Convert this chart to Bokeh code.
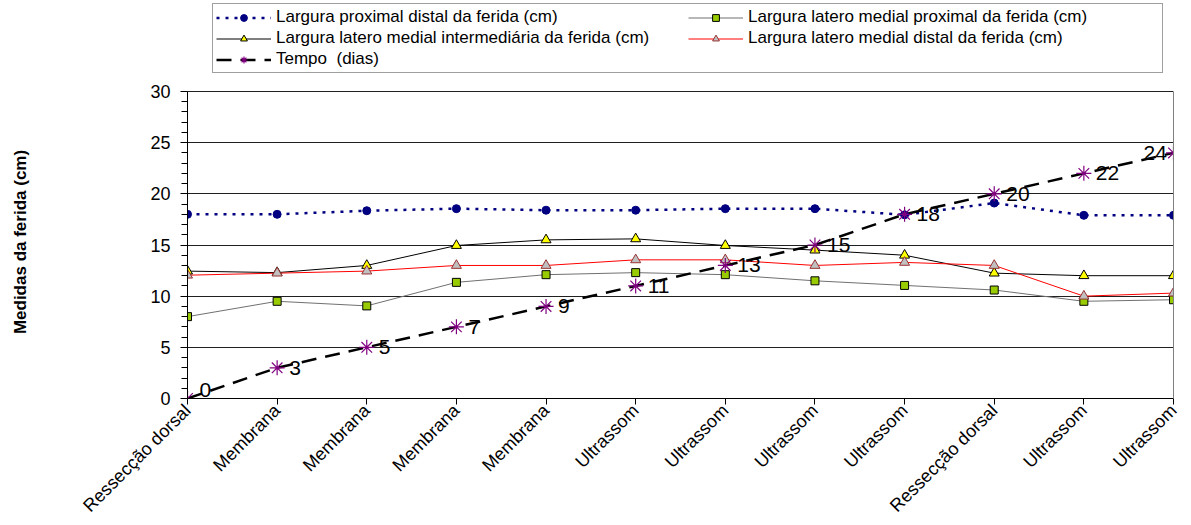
import math
from bokeh.plotting import figure
from bokeh.models import (Legend, LegendItem, FixedTicker, ColumnDataSource,
                          LabelSet, Range1d, LinearAxis)
from bokeh.embed import file_html
from bokeh.resources import INLINE
from bokeh.core.properties import value

categories = ["Ressecção dorsal", "Membrana", "Membrana", "Membrana", "Membrana",
              "Ultrassom", "Ultrassom", "Ultrassom", "Ultrassom",
              "Ressecção dorsal", "Ultrassom", "Ultrassom"]
larg_prox_distal = [18.0, 18.0, 18.35, 18.55, 18.4, 18.4, 18.55, 18.55, 17.95, 19.1, 17.9, 17.9]
larg_lm_proximal = [8.0, 9.5, 9.05, 11.35, 12.1, 12.3, 12.1, 11.5, 11.05, 10.6, 9.5, 9.65]
larg_lm_intermed = [12.45, 12.3, 13.0, 14.95, 15.5, 15.6, 14.95, 14.5, 14.0, 12.25, 12.0, 12.0]
larg_lm_distal = [12.05, 12.25, 12.45, 13.0, 13.0, 13.55, 13.55, 13.0, 13.3, 13.0, 10.0, 10.3]
tempo = [0, 3, 5, 7, 9, 11, 13, 15, 18, 20, 22, 24]
y_ticks = [0, 5, 10, 15, 20, 25, 30]

series_names = ["Largura proximal distal da ferida (cm)",
                "Largura latero medial proximal da ferida (cm)",
                "Largura latero medial intermediária da ferida (cm)",
                "Largura latero medial distal da ferida (cm)",
                "Tempo  (dias)"]
y_label = "Medidas da ferida (cm)"

FONT = "Liberation Sans"
xs = list(range(len(categories)))
y_max = y_ticks[-1]

styles = [
    dict(line=dict(line_color="#000080", line_width=2.5, line_dash="3 6"),
         mark=dict(marker="circle", size=8, fill_color="#000080", line_color="#000080")),
    dict(line=dict(line_color="#707070", line_width=1),
         mark=dict(marker="square", size=8, fill_color="#99CC00", line_color="#000000")),
    dict(line=dict(line_color="#000000", line_width=1),
         mark=dict(marker="triangle", size=10, fill_color="#FFFF00", line_color="#000000")),
    dict(line=dict(line_color="#FF0000", line_width=1),
         mark=dict(marker="triangle", size=10, fill_color="#C0C0C0", line_color="#993333")),
    dict(line=dict(line_color="#000000", line_width=2.5, line_dash="15 9"),
         mark=dict(marker="asterisk", size=15, line_color="#800080", line_width=1.2)),
]
series = [larg_prox_distal, larg_lm_proximal, larg_lm_intermed, larg_lm_distal, tempo]

# frame extends above the value area to host the legend (value area 0..30 = 307px)
px_per_unit = 307 / y_max
p = figure(width=1191, height=525, output_backend="svg", toolbar_location=None,
           x_range=Range1d(0, len(categories) - 1),
           y_range=Range1d(0, y_max + 91 / px_per_unit),
           min_border_left=187, min_border_right=18, min_border_top=0,
           min_border_bottom=127)
p.background_fill_color = "white"
p.border_fill_color = "white"
p.outline_line_color = None

p.xaxis.ticker = FixedTicker(ticks=xs)
p.xaxis.major_label_overrides = {i: c for i, c in enumerate(categories)}
p.xaxis.major_label_orientation = math.pi / 4
p.xaxis.major_label_text_font = FONT
p.xaxis.major_label_text_font_size = "18px"
p.xaxis.major_label_text_color = "black"
p.xaxis.axis_line_color = "black"
p.xaxis.major_tick_line_color = "black"
p.xaxis.major_tick_out = 6
p.xaxis.major_tick_in = 0
p.xaxis.minor_tick_line_color = None
p.xaxis.major_label_standoff = 3

p.yaxis.bounds = (0, y_max)
p.yaxis.ticker = FixedTicker(ticks=y_ticks, minor_ticks=list(range(y_max + 1)))
p.yaxis.major_label_text_font = FONT
p.yaxis.major_label_text_font_size = "18px"
p.yaxis.major_label_text_color = "black"
p.yaxis.axis_line_color = "black"
p.yaxis.major_tick_line_color = "black"
p.yaxis.minor_tick_line_color = "black"
p.yaxis.major_tick_out = 7
p.yaxis.major_tick_in = 0
p.yaxis.minor_tick_out = 6
p.yaxis.minor_tick_in = 0
p.yaxis.major_label_standoff = 10
# trailing no-break spaces shift the centred label down onto the value area
p.yaxis.axis_label = y_label + "\u00a0" * 18
p.yaxis.axis_label_text_font = FONT
p.yaxis.axis_label_text_font_style = "bold"
p.yaxis.axis_label_text_font_size = "17px"
p.yaxis.axis_label_text_color = "black"
p.yaxis.axis_label_standoff = 117

# right border of the value area
rax = LinearAxis(bounds=(0, y_max), ticker=FixedTicker(ticks=[]),
                 axis_line_color="#808080", major_tick_line_color=None,
                 minor_tick_line_color=None, major_label_text_color=None)
p.add_layout(rax, "right")

p.xgrid.visible = False
p.ygrid.grid_line_color = "#202020"
p.ygrid.grid_line_width = 1

line_rs, mark_rs = [], []
for ys, st in zip(series, styles):
    line_rs.append(p.line(xs, ys, **st["line"]))
for ys, st in zip(series, styles):
    mark_rs.append(p.scatter(xs, ys, **st["mark"]))

# data labels for Tempo
label_dx = [12] * (len(tempo) - 1) + [-30]
label_dy = [9] + [0] * (len(tempo) - 1)
src = ColumnDataSource(dict(x=xs, y=tempo, t=[str(v) for v in tempo],
                            dx=label_dx, dy=label_dy))
labels = LabelSet(x="x", y="y", text="t", x_offset="dx", y_offset="dy", source=src,
                  text_font=value(FONT), text_font_size="21px", text_color="black",
                  text_align="left", text_baseline="middle")
p.add_layout(labels)

leg_items = [LegendItem(label=n, renderers=[l, m])
             for n, l, m in zip(series_names, line_rs, mark_rs)]
legend = Legend(items=leg_items, orientation="horizontal", ncols=2,
                location=(25, 325), margin=0, padding=3,
                glyph_width=55, glyph_height=17, label_height=17, spacing=1,
                label_width=411, label_standoff=5,
                label_text_font=FONT, label_text_font_size="17px",
                label_text_color="black", border_line_color="#404040",
                border_line_width=1)
p.add_layout(legend, "center")

open("out.html", "w").write(file_html(p, INLINE))
